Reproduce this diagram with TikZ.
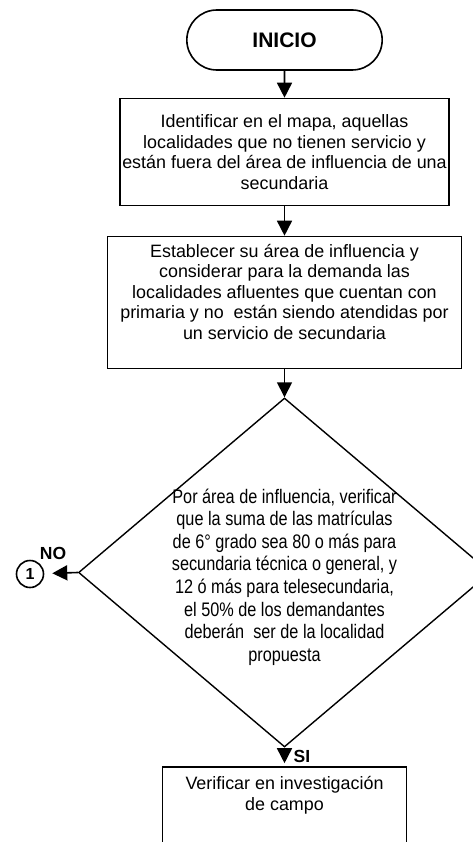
\documentclass[tikz,border=0pt]{standalone}
\usepackage{fontspec}
\setmainfont{Liberation Sans}
\newfontfamily\narrowfont[FakeStretch=0.83]{Liberation Sans}
\usetikzlibrary{positioning,shapes,arrows.meta}

\begin{document}
\begin{tikzpicture}[x=1pt,y=-1pt,line width=1.6pt,
      every node/.style={align=center,font=\fontsize{17.9}{20.5}\selectfont},
      startnode/.style={draw,rounded rectangle,minimum width=202pt,minimum height=60pt,
        font=\fontsize{21}{24}\selectfont\bfseries},
      boxnode/.style={draw,rectangle,inner xsep=2pt},
      decnode/.style={draw,diamond,inner sep=0pt,line width=1.4pt,minimum width=412pt,minimum height=349pt},
      critnode/.style={font=\fontsize{19.6}{22.6}\narrowfont},
      connode/.style={draw,circle,inner sep=0pt,minimum size=27pt,
        font=\fontsize{16}{18}\selectfont\bfseries},
      tagnode/.style={font=\fontsize{17.5}{20}\selectfont\bfseries},
      flow/.style={-{Triangle[length=15pt,width=15pt]}}
    ]
    \useasboundingbox (0,0) rectangle (473,842);

    % the steps
    \node[startnode] (inicio) at (284.5,40) {INICIO};
    \node[boxnode,minimum width=273pt,minimum height=107pt] (identificar) at (284.5,152)
      {Identificar en el mapa, aquellas\\localidades que no tienen servicio y\\
       están fuera del área de influencia de una\\secundaria};
    \node[boxnode,minimum width=354pt,minimum height=132pt,text depth=22pt] (establecer) at (284.5,302.5)
      {Establecer su área de influencia y\\considerar para la demanda las\\
       localidades afluentes que cuentan con\\primaria y no\ \ están siendo atendidas por\\
       un servicio de secundaria};

    % the decision
    \node[decnode] (decision) at (284.5,572.5) {};
    \node[critnode] (criterio) at (284.5,577)
      {Por área de influencia, verificar\\que la suma de las matrículas\\
       de 6° grado sea 80 o más para\\secundaria técnica o general, y\\
       12 ó más para telesecundaria,\\el 50\% de los demandantes\\
       deberán\ \ ser de la localidad\\propuesta};

    % the exits
    \node[connode] (uno) at (30,574) {1};
    \node[tagnode] (no) at (53,553) {NO};
    \node[boxnode,minimum width=244pt,minimum height=100pt,text depth=47pt] (verificar) at (284.5,817)
      {Verificar en investigación\\de campo};
    \node[tagnode] (si) at (302,756) {SI};

    % the connectors
    \draw[flow] (inicio) -- (identificar);
    \draw[flow] (identificar) -- (establecer);
    \draw[flow] (establecer) -- (decision);
    \draw[flow,shorten >=8pt] (decision.west) -- (uno);
    \draw[flow,shorten >=3pt] (decision.south) -- (verificar);
\end{tikzpicture}
\end{document}
